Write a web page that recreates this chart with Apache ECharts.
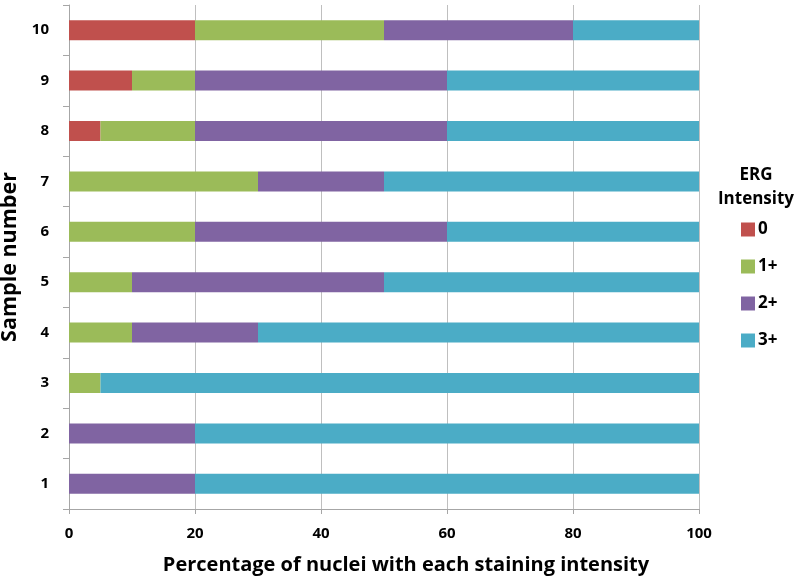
<!DOCTYPE html>
<html><head><meta charset="utf-8">
<script src="https://cdn.jsdelivr.net/npm/echarts@6/dist/echarts.min.js"></script>
<style>html,body{margin:0;padding:0;background:#fff}#c{width:800px;height:580px}</style>
</head><body><div id="c"></div>
<script>
const categories = ['1','2','3','4','5','6','7','8','9','10'];
const seriesNames = ['0','1+','2+','3+'];
const v0  = [0, 0, 0, 0, 0, 0, 0, 5, 10, 20];
const v1  = [0, 0, 5, 10, 10, 20, 30, 15, 10, 30];
const v2  = [20, 20, 0, 20, 40, 40, 20, 40, 40, 30];
const v3  = [80, 80, 95, 70, 50, 40, 50, 40, 40, 20];
const xTicks = [0, 20, 40, 60, 80, 100];
const colors = ['#C0504D', '#9BBB59', '#8064A2', '#4BACC6'];
const values = [v0, v1, v2, v3];
const FONT = '"Open Sans", "Noto Sans", sans-serif';

const chart = echarts.init(document.getElementById('c'));
chart.setOption({
  animation: false,
  color: colors,
  grid: { left: 69, right: 101, top: 5, bottom: 71, containLabel: false, outerBoundsMode: 'none' },
  xAxis: {
    type: 'value', min: xTicks[0], max: xTicks[xTicks.length-1], interval: 20,
    name: 'Percentage of nuclei with each staining intensity',
    nameLocation: 'middle', nameGap: 46,
    nameTextStyle: { fontFamily: FONT, fontSize: 20, fontWeight: 'bold', color: '#000', padding: [0, 0, 0, 44] },
    axisLine: { show: true, lineStyle: { color: '#A6A6A6', width: 1 } },
    axisTick: { show: true, length: 5, lineStyle: { color: '#A6A6A6' } },
    axisLabel: { fontFamily: FONT, fontSize: 15, fontWeight: 'bold', color: '#000', margin: 17 },
    splitLine: { show: true, lineStyle: { color: '#BFBFBF', width: 1 } }
  },
  yAxis: {
    type: 'category', data: categories,
    name: 'Sample number', nameLocation: 'middle', nameGap: 44,
    nameTextStyle: { fontFamily: FONT, fontSize: 21.5, fontWeight: 'bold', color: '#000' },
    axisLine: { show: true, lineStyle: { color: '#A6A6A6', width: 1 } },
    axisTick: { show: true, length: 6, lineStyle: { color: '#A6A6A6' } },
    axisLabel: { fontFamily: FONT, fontSize: 15, fontWeight: 'bold', color: '#000', margin: 20 }
  },
  legend: {
    orient: 'vertical', left: 736, top: 216,
    itemWidth: 14, itemHeight: 14, itemGap: 20,
    icon: 'rect',
    textStyle: { fontFamily: FONT, fontSize: 17, fontWeight: 'bold', color: '#000', padding: [0,0,0,-2] },
    data: seriesNames
  },
  graphic: [
    { type: 'text', x: 756, y: 175, style: { text: 'ERG', font: 'bold 17px ' + FONT, fill: '#000', textAlign: 'center', textVerticalAlign: 'middle' } },
    { type: 'text', x: 756, y: 199, style: { text: 'Intensity', font: 'bold 17px ' + FONT, fill: '#000', textAlign: 'center', textVerticalAlign: 'middle' } }
  ],
  series: seriesNames.map((n, i) => ({
    name: n, type: 'bar', stack: 'total', barWidth: 20,
    data: values[i], itemStyle: { color: colors[i] }
  }))
});
</script></body></html>
